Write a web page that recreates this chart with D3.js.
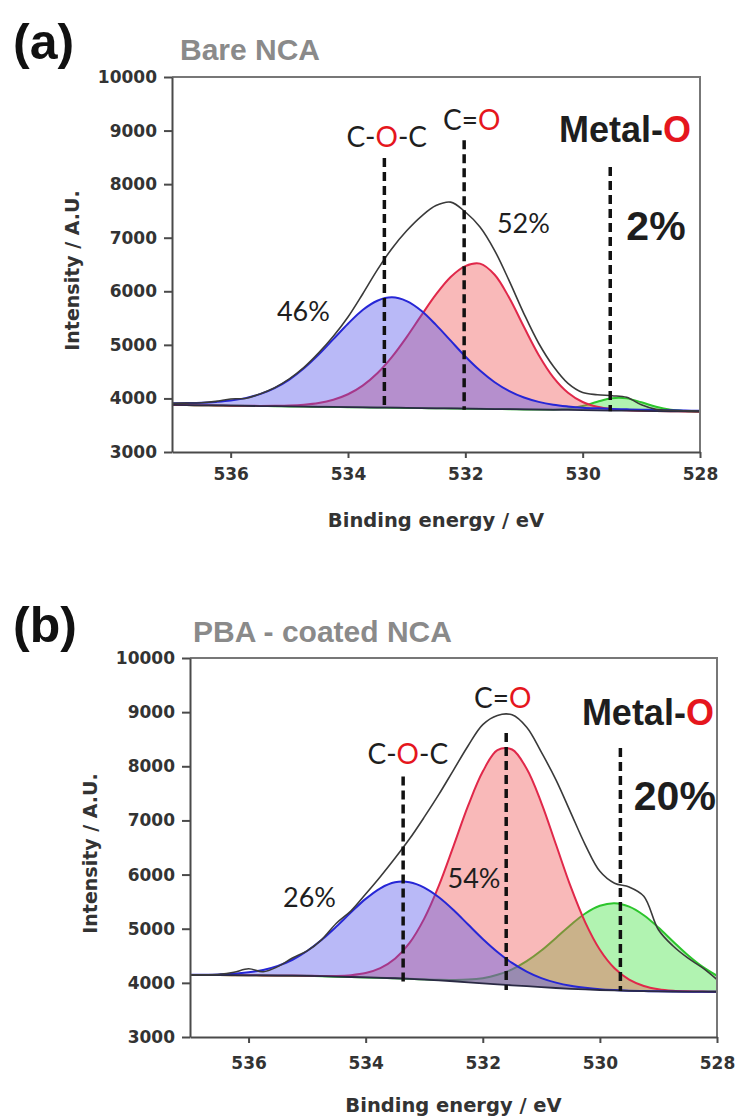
<!DOCTYPE html>
<html>
<head>
<meta charset="utf-8">
<title>O 1s XPS - NCA</title>
<script src="https://d3js.org/d3.v7.min.js"></script>
<style>
    body, html {
        margin: 0;
        padding: 0;
        background: #fff;
    }
    svg { display: block; }
</style>
</head>
<body>
<div id="chart"></div>
<script>
    // binding energy grid (eV), shared by both panels
    var energy = [537, 536.75, 536.5, 536.25, 536, 535.75, 535.5, 535.25, 535, 534.75, 534.5, 534.25,
        534, 533.75, 533.5, 533.25, 533, 532.75, 532.5, 532.25, 532, 531.75, 531.5, 531.25, 531,
        530.75, 530.5, 530.25, 530, 529.75, 529.5, 529.25, 529, 528.75, 528.5, 528.25, 528];
    var xTicks = [536, 534, 532, 530, 528];
    var yTicks = [3000, 4000, 5000, 6000, 7000, 8000, 9000, 10000];

    // (a) bare NCA
    var bareBaseline = [3879, 3876, 3872, 3869, 3865, 3862, 3858, 3855, 3851, 3848, 3844, 3841, 3837, 3834, 3830,
        3827, 3823, 3820, 3816, 3813, 3809, 3806, 3802, 3799, 3795, 3792, 3788, 3785, 3781, 3778, 3774, 3771,
        3767, 3764, 3760, 3757, 3753];
    var bareEnvelope = [3910, 3913, 3920, 3945, 3990, 4000, 4083, 4200, 4365, 4580, 4850, 5160, 5520, 5950, 6400,
        6800, 7130, 7400, 7600, 7665, 7480, 7200, 6760, 6190, 5580, 5030, 4600, 4280, 4110, 4070, 4050, 4020,
        3880, 3795, 3778, 3770, 3765];
    var bareCOC = [3910, 3913, 3919, 3935, 3960, 4006, 4080, 4193, 4352, 4563, 4818, 5106, 5394, 5651, 5824,
        5887, 5817, 5637, 5373, 5078, 4783, 4521, 4303, 4137, 4017, 3936, 3883, 3851, 3828, 3815, 3805, 3796,
        3790, 3785, 3778, 3773, 3768];
    var bareCO = [3879, 3876, 3872, 3869, 3865, 3862, 3861, 3862, 3867, 3883, 3915, 3976, 4078, 4240, 4470,
        4776, 5145, 5550, 5942, 6268, 6471, 6516, 6309, 5874, 5332, 4811, 4393, 4106, 3933, 3843, 3799, 3779,
        3770, 3764, 3760, 3757, 3753];
    var bareMetalO = [3879, 3876, 3872, 3869, 3865, 3862, 3858, 3855, 3851, 3848, 3844, 3841, 3837, 3834, 3830,
        3827, 3823, 3820, 3816, 3813, 3809, 3806, 3802, 3799, 3795, 3793, 3795, 3812, 3860, 3939, 4004, 4001,
        3928, 3843, 3787, 3764, 3754];

    // (b) PBA-coated NCA
    var pbaBaseline = [4145, 4144, 4143, 4141, 4140, 4138, 4135, 4133, 4130, 4123, 4115, 4108, 4100, 4093, 4085,
        4073, 4060, 4045, 4030, 4010, 3990, 3973, 3955, 3938, 3920, 3905, 3890, 3879, 3868, 3860, 3852, 3847,
        3843, 3840, 3838, 3837, 3836];
    var pbaEnvelope = [4148, 4150, 4158, 4195, 4260, 4205, 4300, 4460, 4590, 4800, 5100, 5330, 5640, 5960, 6300,
        6660, 7060, 7480, 7930, 8380, 8770, 8940, 8950, 8720, 8260, 7750, 7150, 6550, 6060, 5840, 5770, 5600,
        4980, 4680, 4460, 4280, 4060];
    var pbaCOC = [4148, 4150, 4156, 4168, 4194, 4238, 4313, 4427, 4589, 4795, 5040, 5303, 5551, 5747, 5857,
        5858, 5760, 5581, 5345, 5077, 4811, 4571, 4368, 4209, 4088, 4004, 3945, 3908, 3883, 3867, 3855, 3848,
        3843, 3840, 3838, 3837, 3836];
    var pbaCO = [4145, 4144, 4143, 4141, 4140, 4138, 4135, 4134, 4132, 4128, 4128, 4142, 4181, 4271, 4444,
        4737, 5186, 5795, 6525, 7272, 7902, 8300, 8310, 7953, 7326, 6555, 5781, 5117, 4611, 4269, 4059, 3943,
        3884, 3856, 3844, 3839, 3837];
    var pbaMetalO = [4145, 4144, 4143, 4141, 4140, 4138, 4135, 4133, 4130, 4123, 4115, 4108, 4100, 4093, 4085,
        4075, 4065, 4056, 4054, 4060, 4087, 4149, 4250, 4401, 4597, 4830, 5069, 5281, 5423, 5470, 5407, 5249,
        5022, 4765, 4515, 4300, 4131];

    // peak markers (eV) and their dashed-line extent (intensity)
    var bareMarkers = [{e: 533.38, top: 8490, bottom: 3800}, {e: 532.02, top: 8820, bottom: 3790}, {e: 529.53, top: 8320, bottom: 3760}];
    var pbaMarkers = [{e: 533.36, top: 7810, bottom: 4020}, {e: 531.6, top: 8615, bottom: 3870}, {e: 529.65, top: 8340, bottom: 3850}];

    var RED = "#e5161d", INK = "#1e1e1e";

    var bareLabels = [
        {kind: "bond", parts: [["C-", INK], ["O", RED], ["-C", INK]], e: 533.34, v: 8693},
        {kind: "bond", parts: [["C=", INK], ["O", RED]], e: 531.89, v: 9011},
        {kind: "metal", parts: [["Metal-", INK], ["O", RED]], e: 529.28, v: 8787},
        {kind: "pct", parts: [["52%", INK]], e: 531.01, v: 7088},
        {kind: "big", parts: [["2%", INK]], e: 528.75, v: 6957},
        {kind: "pct", parts: [["46%", INK]], e: 534.76, v: 5445}
    ];
    var pbaLabels = [
        {kind: "bond", parts: [["C-", INK], ["O", RED], ["-C", INK]], e: 533.28, v: 8042},
        {kind: "bond", parts: [["C=", INK], ["O", RED]], e: 531.66, v: 9077},
        {kind: "metal", parts: [["Metal-", INK], ["O", RED]], e: 529.18, v: 8763},
        {kind: "big", parts: [["20%", INK]], e: 528.72, v: 7193},
        {kind: "pct", parts: [["54%", INK]], e: 532.15, v: 5752},
        {kind: "pct", parts: [["26%", INK]], e: 534.96, v: 5401}
    ];

    var labelFont = {
        bond:  {family: "Lato, 'Open Sans', sans-serif", size: 28, weight: "normal"},
        pct:   {family: "Lato, 'Open Sans', sans-serif", size: 27, weight: "normal"},
        metal: {family: "'Liberation Sans', Arial, sans-serif", size: 36, weight: "bold"},
        big:   {family: "'Liberation Sans', Arial, sans-serif", size: 41, weight: "bold"}
    };

    var panels = [
        {id: "a", tag: "(a)", title: "Bare NCA", box: {left: 172, top: 77, right: 700, bottom: 452},
         tagY: 59, titleX: 180, titleY: 60, xPad: 10,
         baseline: bareBaseline, envelope: bareEnvelope,
         peaks: [{values: bareMetalO, fill: "rgba(60,225,60,0.4)", stroke: "#2cc52c"},
                 {values: bareCO, fill: "rgba(240,80,80,0.4)", stroke: "#e0284a"},
                 {values: bareCOC, fill: "rgba(80,80,235,0.4)", stroke: "#2626d6"}],
         markers: bareMarkers, labels: bareLabels},
        {id: "b", tag: "(b)", title: "PBA - coated NCA", box: {left: 190, top: 658, right: 717, bottom: 1037},
         tagY: 642, titleX: 193, titleY: 642, xPad: 14,
         baseline: pbaBaseline, envelope: pbaEnvelope,
         peaks: [{values: pbaMetalO, fill: "rgba(60,225,60,0.4)", stroke: "#2cc52c"},
                 {values: pbaCO, fill: "rgba(240,80,80,0.4)", stroke: "#e0284a"},
                 {values: pbaCOC, fill: "rgba(80,80,235,0.4)", stroke: "#2626d6"}],
         markers: pbaMarkers, labels: pbaLabels}
    ];

    var svg = d3.select("#chart").append("svg")
        .attr("width", 738)
        .attr("height", 1118);

    panels.forEach(drawPanel);

    function drawPanel(p) {
        var w = p.box.right - p.box.left,
            h = p.box.bottom - p.box.top;

        svg.append("text")
            .attr("x", 13).attr("y", p.tagY)
            .attr("font-family", "'Liberation Sans', Arial, sans-serif")
            .attr("font-weight", "bold").attr("font-size", 50)
            .attr("fill", "#111")
            .text(p.tag);

        svg.append("text")
            .attr("x", p.titleX).attr("y", p.titleY)
            .attr("font-family", "'Liberation Sans', Arial, sans-serif")
            .attr("font-weight", "bold").attr("font-size", 30)
            .attr("fill", "#8a8a8a")
            .text(p.title);

        var g = svg.append("g")
            .attr("transform", "translate(" + p.box.left + "," + p.box.top + ")");

        var x = d3.scaleLinear().domain([537, 528]).range([0, w]);
        var y = d3.scaleLinear().domain([3000, 10000]).range([h, 0]);

        g.append("clipPath").attr("id", "clip-" + p.id)
            .append("rect").attr("width", w).attr("height", h);
        var plot = g.append("g").attr("clip-path", "url(#clip-" + p.id + ")");

        var rows = energy.map(function(e, i) { return {e: e, i: i}; });
        var curve = d3.curveCatmullRom.alpha(0.5);

        // fitted components: green, red, blue (each fill covers the previous line)
        p.peaks.forEach(function(pk) {
            var area = d3.area().curve(curve)
                .x(function(d) { return x(d.e); })
                .y0(function(d) { return y(p.baseline[d.i]); })
                .y1(function(d) { return y(pk.values[d.i]); });
            var line = d3.line().curve(curve)
                .x(function(d) { return x(d.e); })
                .y(function(d) { return y(pk.values[d.i]); });
            plot.append("path").datum(rows).attr("d", area).attr("fill", pk.fill);
            plot.append("path").datum(rows).attr("d", line)
                .attr("fill", "none").attr("stroke", pk.stroke).attr("stroke-width", 2);
        });

        plot.append("path").datum(rows)
            .attr("d", d3.line().x(function(d) { return x(d.e); }).y(function(d) { return y(p.baseline[d.i]); }))
            .attr("fill", "none").attr("stroke", "#2a2a44").attr("stroke-width", 1.8);

        plot.append("path").datum(rows)
            .attr("d", d3.line().curve(curve).x(function(d) { return x(d.e); }).y(function(d) { return y(p.envelope[d.i]); }))
            .attr("fill", "none").attr("stroke", "#3a3a3a").attr("stroke-width", 1.6);

        g.selectAll("line.marker").data(p.markers).enter().append("line")
            .attr("class", "marker")
            .attr("x1", function(d) { return x(d.e); }).attr("x2", function(d) { return x(d.e); })
            .attr("y1", function(d) { return y(d.top); }).attr("y2", function(d) { return y(d.bottom); })
            .attr("stroke", "#111").attr("stroke-width", 3.5).attr("stroke-dasharray", "9,5");

        // frame
        g.append("path")
            .attr("d", "M0,0H" + w + "V" + h)
            .attr("fill", "none").attr("stroke", "#777").attr("stroke-width", 2);

        var xAxis = g.append("g").attr("transform", "translate(0," + h + ")")
            .call(d3.axisBottom(x).tickValues(xTicks).tickFormat(d3.format("d"))
                .tickSize(6).tickSizeOuter(0).tickPadding(p.xPad));
        var yAxis = g.append("g")
            .call(d3.axisLeft(y).tickValues(yTicks).tickFormat(d3.format("d"))
                .tickSize(8).tickSizeOuter(0).tickPadding(7));

        [xAxis, yAxis].forEach(function(a) {
            a.select(".domain").attr("stroke", "#4a4a4a").attr("stroke-width", 2);
            a.selectAll(".tick line").attr("stroke", "#4a4a4a").attr("stroke-width", 2);
            a.selectAll(".tick text")
                .attr("font-family", "'DejaVu Sans', sans-serif")
                .attr("font-weight", "bold").attr("font-size", 17)
                .attr("fill", "#333");
        });

        g.append("text")
            .attr("transform", "translate(" + (w / 2) + "," + (h + 75) + ")")
            .attr("text-anchor", "middle")
            .attr("font-family", "'DejaVu Sans', sans-serif")
            .attr("font-weight", "bold").attr("font-size", 19.5)
            .attr("fill", "#333")
            .text("Binding energy / eV");

        g.append("text")
            .attr("transform", "translate(-100," + (h / 2 + 6) + ") rotate(-90)")
            .attr("text-anchor", "middle")
            .attr("dy", "0.35em")
            .attr("font-family", "'DejaVu Sans', sans-serif")
            .attr("font-weight", "bold").attr("font-size", 19)
            .attr("fill", "#333")
            .text("Intensity / A.U.");

        // peak annotations
        p.labels.forEach(function(l) {
            var f = labelFont[l.kind];
            var t = g.append("text")
                .attr("x", x(l.e)).attr("y", y(l.v))
                .attr("text-anchor", "middle")
                .attr("font-family", f.family)
                .attr("font-size", f.size)
                .attr("font-weight", f.weight);
            l.parts.forEach(function(part) {
                t.append("tspan").attr("fill", part[1]).text(part[0]);
            });
        });
    }
</script>
</body>
</html>
